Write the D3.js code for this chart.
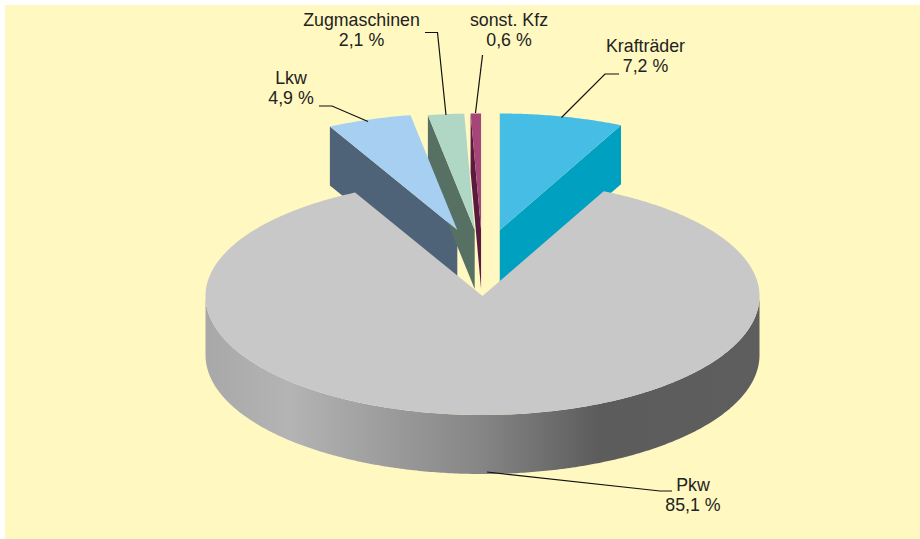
<!DOCTYPE html>
<html>
<head>
<meta charset="utf-8">
<script src="https://cdn.jsdelivr.net/npm/d3@7"></script>
<style>
	html, body { margin: 0; padding: 0; background: #fff; }
	svg { display: block; }
	text { font-family: "Liberation Sans", Arial, sans-serif; font-size: 17.8px; fill: #222; }
</style>
</head>
<body>
<div id="chart"></div>
<script>
// Data, clockwise from 12 o'clock
var categories = ["Krafträder", "Pkw", "Lkw", "Zugmaschinen", "sonst. Kfz"];
var shares = [7.2, 85.1, 4.9, 2.1, 0.6];
var shareLabels = ["7,2 %", "85,1 %", "4,9 %", "2,1 %", "0,6 %"];

var width = 920, height = 539;
// the far half of the disc is a bit flatter than the near half
var cx = 482.5, cy = 296, rx = 277, ryBack = 116.5, ryFront = 119, depth = 59;

var topColor = ["#45bde5", "#c8c8c8", "#a6cff2", "#b0d6c6", "#a5457a"];
var sideColor = ["#00a0c0", "#c8c8c8", "#4f6378", "#567064", "#5a1a40"];

var svg = d3.select("#chart")
	.append("svg")
	.attr("width", width)
	.attr("height", height);

svg.append("rect")
	.attr("x", 5).attr("y", 5)
	.attr("width", width - 5).attr("height", height - 5)
	.attr("fill", "#fff8c0");

var grad = svg.append("defs").append("linearGradient")
	.attr("id", "rim")
	.attr("gradientUnits", "userSpaceOnUse")
	.attr("x1", cx - rx).attr("x2", cx + rx)
	.attr("y1", 0).attr("y2", 0);
[[0, "#a8a8a8"], [0.15, "#b4b4b4"], [0.5, "#858585"], [0.71, "#5c5c5c"], [1, "#5e5e5e"]].forEach(function (s) {
	grad.append("stop").attr("offset", s[0]).attr("stop-color", s[1]);
});

var slices = d3.pie().sort(null).value(function (d) { return d; })(shares);

function mid(d) { return (d.startAngle + d.endAngle) / 2; }

// exploded slices keep the same height, sideways shift follows the mid angle
function offset(d, i) {
	if (categories[i] == "Pkw") return [0, 0];
	return [75 * Math.tan(mid(d)), -66];
}

function rimX(a) { return rx * Math.sin(a); }
function rimY(a) { return -Math.cos(a) * (Math.cos(a) > 0 ? ryBack : ryFront); }

// top surface of a slice
function sector(d, i) {
	var o = offset(d, i);
	var n = Math.ceil((d.endAngle - d.startAngle) / 0.01);
	var pts = d3.range(n + 1).map(function (k) {
		var a = d.startAngle + (d.endAngle - d.startAngle) * k / n;
		return [cx + o[0] + rimX(a), cy + o[1] + rimY(a)];
	});
	return "M" + (cx + o[0]) + "," + (cy + o[1]) + "L" + pts.join("L") + "Z";
}

// the cut face of a slice that looks to the viewer
function cutFace(d, i) {
	var o = offset(d, i);
	var a = mid(d) < Math.PI ? d.endAngle : d.startAngle;
	var x0 = cx + o[0], y0 = cy + o[1];
	var x1 = x0 + rimX(a), y1 = y0 + rimY(a);
	return "M" + x0 + "," + y0 + "L" + x1 + "," + y1 +
		"L" + x1 + "," + (y1 + depth) + "L" + x0 + "," + (y0 + depth) + "Z";
}

var small = slices.map(function (d, i) { return { d: d, i: i }; })
	.filter(function (s) { return categories[s.i] != "Pkw"; });

svg.selectAll("path.cut")
	.data(small)
	.enter()
	.append("path")
	.attr("class", "cut")
	.attr("d", function (s) { return cutFace(s.d, s.i); })
	.attr("fill", function (s) { return sideColor[s.i]; });

svg.selectAll("path.top")
	.data(small)
	.enter()
	.append("path")
	.attr("class", "top")
	.attr("d", function (s) { return sector(s.d, s.i); })
	.attr("fill", function (s) { return topColor[s.i]; });

// Pkw: rim first, top surface over it
var pkwIndex = categories.indexOf("Pkw");
var rim = d3.area()
	.x(function (a) { return cx + rimX(a); })
	.y0(function (a) { return cy + rimY(a); })
	.y1(function (a) { return cy + rimY(a) + depth; });

svg.append("path")
	.attr("d", rim(d3.range(Math.PI / 2, 3 * Math.PI / 2 + 0.01, 0.01)))
	.attr("fill", "url(#rim)");

svg.append("path")
	.attr("d", sector(slices[pkwIndex], pkwIndex))
	.attr("fill", topColor[pkwIndex]);

// Leader lines and labels, placed by hand like in the original
var leaders = {
	"Krafträder": [[561.5, 117.5], [605, 74], [619, 74]],
	"Pkw": [[487, 472], [660, 491], [672, 491]],
	"Lkw": [[368, 121.5], [332, 106], [319, 106]],
	"Zugmaschinen": [[446, 115], [437.5, 32.5], [425, 32.5]],
	"sonst. Kfz": [[475.5, 113], [482.5, 55]]
};
var labelPos = {
	"Krafträder": [645.5, 52],
	"Pkw": [693, 491],
	"Lkw": [291, 84],
	"Zugmaschinen": [361.5, 26],
	"sonst. Kfz": [509, 26]
};

var line = d3.line();
categories.forEach(function (c, i) {
	svg.append("path")
		.attr("d", line(leaders[c]))
		.attr("fill", "none")
		.attr("stroke", "#111")
		.attr("stroke-width", 1.2);

	var p = labelPos[c];
	var t = svg.append("text")
		.attr("text-anchor", "middle")
		.attr("x", p[0]).attr("y", p[1]);
	t.append("tspan").attr("x", p[0]).text(c);
	t.append("tspan").attr("x", p[0]).attr("dy", 20).text(shareLabels[i]);
});
</script>
</body>
</html>
